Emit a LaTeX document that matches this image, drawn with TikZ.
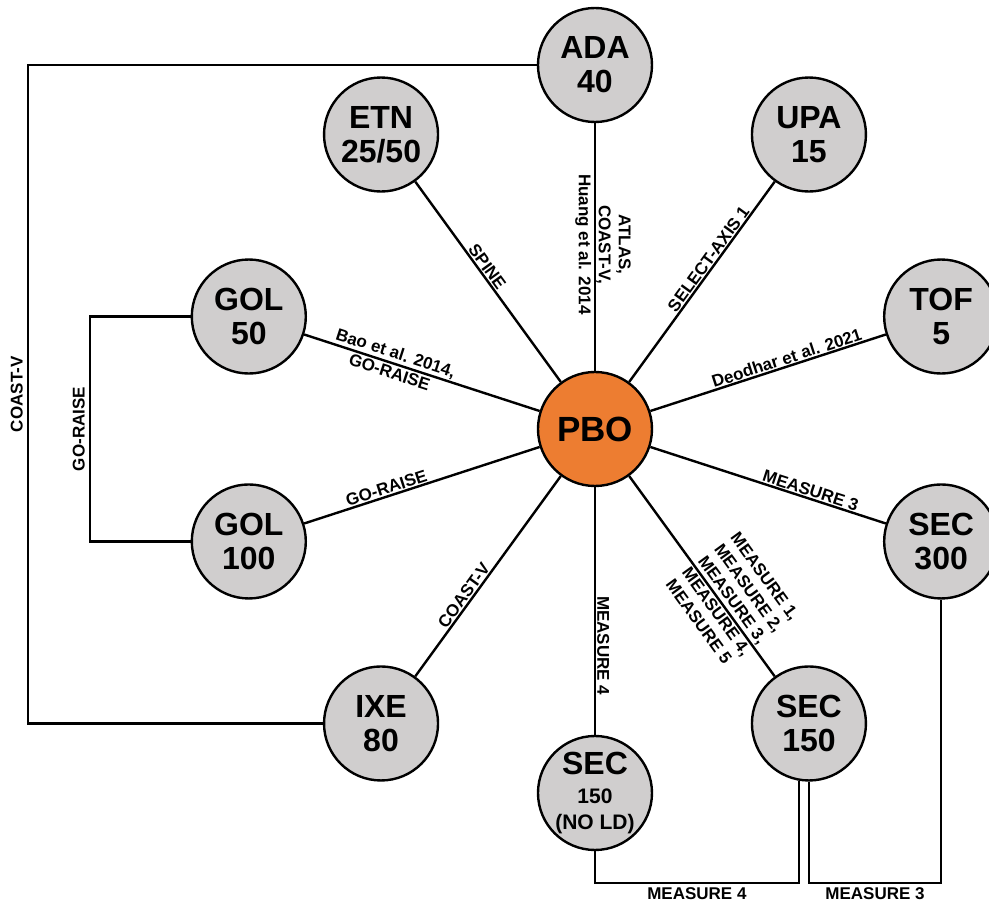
\documentclass[tikz,border=0pt]{standalone}
\usepackage{fontspec}
\setmainfont{Liberation Sans}

\definecolor{sitegray}{RGB}{208,206,206}
\definecolor{pboorange}{RGB}{237,125,49}
\newcommand\subsz{\fontsize{21}{26}\selectfont}

\begin{document}
\begin{tikzpicture}[x=1pt, y=1pt,
    site/.style={circle, draw, line width=2.4pt, fill=sitegray, minimum size=114pt,
      inner sep=0pt, align=center, font=\fontsize{32}{34}\selectfont\bfseries},
    link/.style={line width=2.4pt},
    lbl/.style={font=\fontsize{17}{20}\selectfont\bfseries, inner sep=1pt, align=center}]
    \useasboundingbox (-595,-475) rectangle (394,429);
    % sites round the hub
    \node [site, fill=pboorange, font=\fontsize{35}{38}\selectfont\bfseries] (pbo) at (0,0) {PBO};
    \node [site] (ada) at (90:364pt) {ADA\\40};
    \node [site] (upa) at (54:364pt) {UPA\\15};
    \node [site] (tof) at (18:364pt) {TOF\\5};
    \node [site] (sec300) at (-18:364pt) {SEC\\300};
    \node [site] (sec150) at (-54:364pt) {SEC\\150};
    \node [site] (secnold) at (-90:364pt) {SEC\\[-5pt]\subsz 150\\[-8pt]\subsz (NO LD)};
    \node [site] (ixe) at (-126:364pt) {IXE\\80};
    \node [site] (gol100) at (-162:364pt) {GOL\\100};
    \node [site] (gol50) at (162:364pt) {GOL\\50};
    \node [site] (etn) at (126:364pt) {ETN\\25/50};
    \coordinate (leftrail) at (-567,0);
    \coordinate (gorail) at (-505,0);
    \coordinate (base) at (0,-454);

    % spokes
    \draw [link] (pbo) -- node [lbl, pos=0.51, rotate=-90, yshift=8pt] {ATLAS,\\COAST-V,\\Huang et al. 2014} (ada);
    \draw [link] (pbo) -- node [lbl, pos=0.59, sloped, above] {SELECT-AXIS 1} (upa);
    \draw [link] (pbo) -- node [lbl, pos=0.59, sloped, above] {Deodhar et al. 2021} (tof);
    \draw [link] (pbo) -- node [lbl, pos=0.67, sloped, above] {MEASURE 3} (sec300);
    \draw [link] (pbo) -- node [lbl, pos=0.65, sloped, yshift=11pt, align=left] {MEASURE 1,\\MEASURE 2,\\MEASURE 3,\\MEASURE 4,\\MEASURE 5} (sec150);
    \draw [link] (pbo) -- node [lbl, pos=0.64, rotate=-90, above] {MEASURE 4} (secnold);
    \draw [link] (pbo) -- node [lbl, pos=0.62, sloped, above] {COAST-V} (ixe);
    \draw [link] (pbo) -- node [lbl, pos=0.64, sloped, above] {GO-RAISE} (gol100);
    \draw [link] (pbo) -- node [lbl, pos=0.625, sloped, yshift=1pt] {Bao et al. 2014,\\GO-RAISE} (gol50);
    \draw [link] (pbo) -- node [lbl, pos=0.55, sloped, above] {SPINE} (etn);

    % outer links
    \draw [link] (ada.west) -- (ada.west -| leftrail) |- node [lbl, pos=0.25, rotate=90, above=3pt] {COAST-V} (ixe.west);
    \draw [link] (gol50.west) -- (gol50.west -| gorail) |- node [lbl, pos=0.25, rotate=90, above=3pt] {GO-RAISE} (gol100.west);
    \draw [link] (secnold.south) -- (secnold.south |- base) -- node [lbl, below=2pt] {MEASURE 4} (sec150.-100 |- base) -- (sec150.-100);
    \draw [link] (sec150.south) -- (sec150.south |- base) -- node [lbl, below=2pt] {MEASURE 3} (sec300.south |- base) -- (sec300.south);
\end{tikzpicture}
\end{document}
